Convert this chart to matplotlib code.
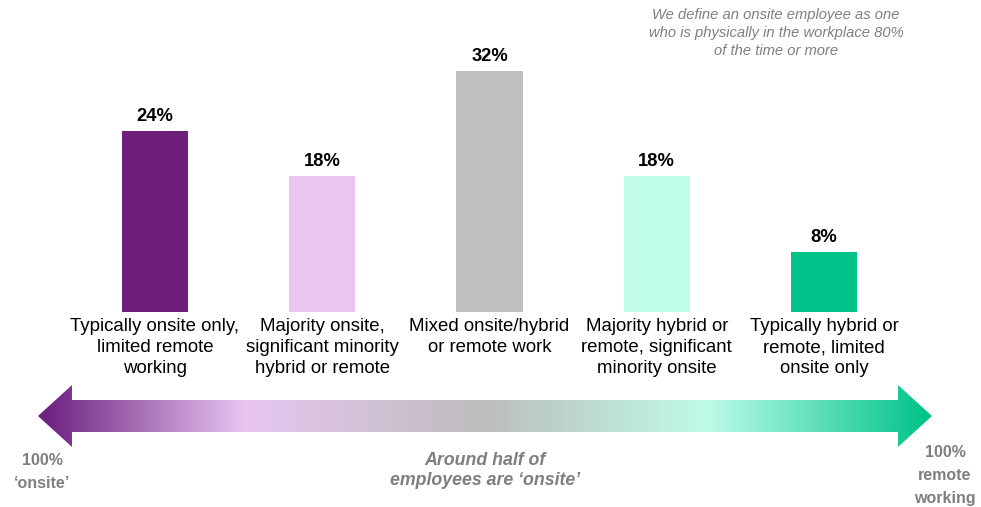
import numpy as np
import matplotlib.pyplot as plt
from matplotlib.colors import LinearSegmentedColormap
from matplotlib.patches import Polygon

plt.rcParams['font.family'] = ['Liberation Sans', 'DejaVu Sans']

# ---- data ----
categories = [
    "Typically onsite only,\nlimited remote\nworking",
    "Majority onsite,\nsignificant minority\nhybrid or remote",
    "Mixed onsite/hybrid\nor remote work",
    "Majority hybrid or\nremote, significant\nminority onsite",
    "Typically hybrid or\nremote, limited\nonsite only",
]
values = [24, 18, 32, 18, 8]
bar_colors = ["#6E1F7C", "#E8C6F0", "#BFBFBF", "#C0FCEA", "#00C389"]

note = "We define an onsite employee as one\nwho is physically in the workplace 80%\nof the time or more"
left_label = "100%\n\u2018onsite\u2019"
mid_label = "Around half of\nemployees are \u2018onsite\u2019"
right_label = "100%\nremote\nworking"

W, H = 981, 507
fig = plt.figure(figsize=(W / 100, H / 100), dpi=100)

# ---- bars ----
step = 167.25
x0 = 155 - step / 2
base = 312
px_per_pct = 7.53
ymax = 35
ax = fig.add_axes([x0 / W, (H - base) / H, 5 * step / W, ymax * px_per_pct / H])
x = np.arange(len(values))
bars = ax.bar(x, values, width=0.395, color=bar_colors)
ax.set_xlim(-0.5, 4.5)
ax.set_ylim(0, ymax)
ax.axis('off')
for xi, v in zip(x, values):
    ax.text(xi, v + 0.8, f"{v}%", ha='center', va='bottom',
            fontsize=13.2, fontweight='bold', color='black')
for xi, c in zip(x, categories):
    ax.text(xi, -0.85, c, ha='center', va='top', fontsize=13.4,
            color='black', linespacing=1.3)

# ---- gradient arrow (overlay in pixel coords) ----
ov = fig.add_axes([0, 0, 1, 1], zorder=-1)
ov.set_xlim(0, W)
ov.set_ylim(H, 0)
ov.axis('off')

grad = LinearSegmentedColormap.from_list(
    "g", [(0.0, "#6B1F7E"), (0.23, "#E8C6F1"), (0.5, "#BDBDBD"),
          (0.75, "#BFFBE9"), (1.0, "#00C389")])
xl, xr = 38, 932
yc = 416
arrow = Polygon([(xl, yc), (72, 385), (72, 400), (898, 400), (898, 385),
                 (xr, yc), (898, 447), (898, 432), (72, 432), (72, 447)],
                closed=True, facecolor='none', edgecolor='none')
ov.add_patch(arrow)
img = ov.imshow(np.linspace(0, 1, 256)[None, :], cmap=grad, aspect='auto',
                extent=(xl, xr, 450, 382), interpolation='bilinear')
img.set_clip_path(arrow)

# ---- texts ----
fig.text(776 / W, 1 - 8 / H, note, ha='center', va='top', fontsize=10.6,
         style='italic', color='#7F7F7F', linespacing=1.38)
fig.text(42 / W, 1 - 453 / H, left_label, ha='center', va='top', fontsize=11.5,
         fontweight='bold', color='#7F7F7F', linespacing=1.7)
fig.text(485 / W, 1 - 452 / H, mid_label, ha='center', va='top', fontsize=12.8,
         fontweight='bold', style='italic', color='#7F7F7F', linespacing=1.2)
fig.text(945 / W, 1 - 445 / H, right_label, ha='center', va='top', fontsize=11.5,
         fontweight='bold', color='#7F7F7F', linespacing=1.65)

fig.savefig("out.png", dpi=100)
